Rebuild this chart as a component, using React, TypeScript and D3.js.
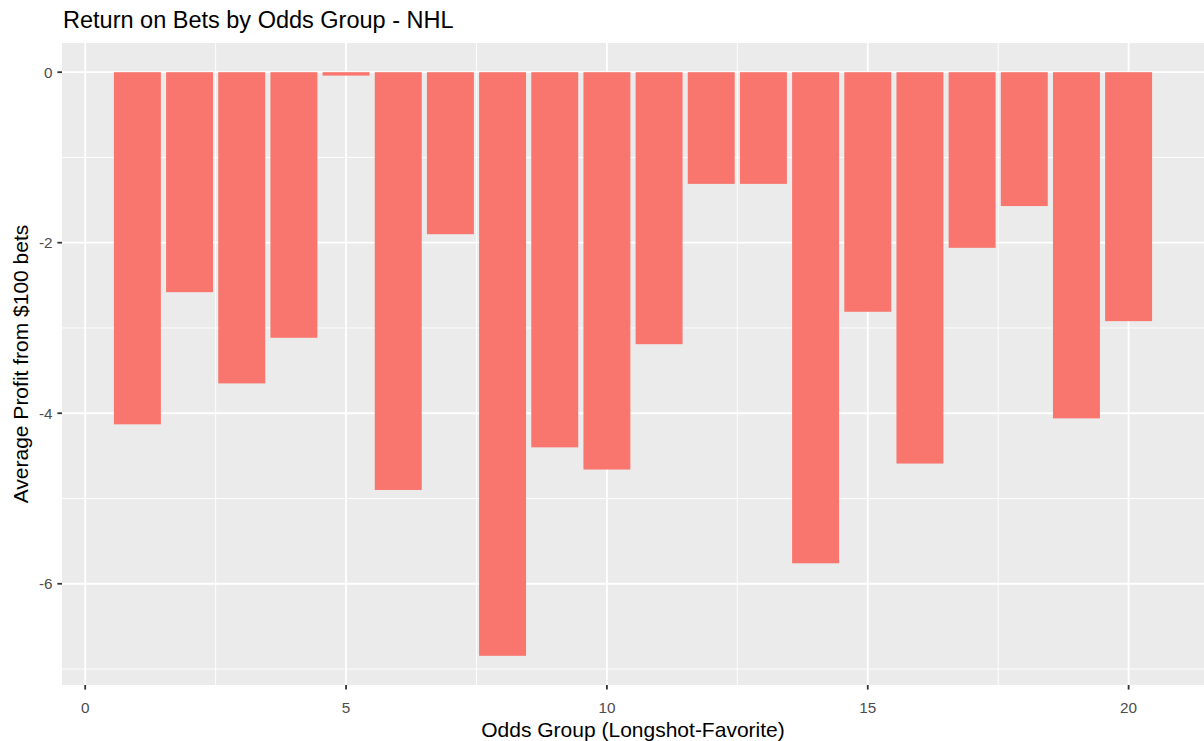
import React from "react";
import * as d3 from "d3";

const groups: number[] = [1, 2, 3, 4, 5, 6, 7, 8, 9, 10, 11, 12, 13, 14, 15, 16, 17, 18, 19, 20];
const profits: number[] = [
  -4.13, -2.58, -3.65, -3.115, -0.04, -4.9, -1.9, -6.845, -4.4, -4.66,
  -3.19, -1.31, -1.31, -5.76, -2.81, -4.59, -2.06, -1.57, -4.06, -2.92,
];
const xTicks: number[] = [0, 5, 10, 15, 20];
const xMinor: number[] = [2.5, 7.5, 12.5, 17.5];
const yTicks: number[] = [0, -2, -4, -6];
const yMinor: number[] = [1, -1, -3, -5, -7];

const W = 1204;
const H = 741;
const panel = { left: 62, right: 1204, top: 43, bottom: 685 };
const barWidth = 0.9;
const FONT = "'Liberation Sans', Arial, Helvetica, sans-serif";

export default function App() {
  const xmin = d3.min(groups)! - barWidth / 2;
  const xmax = d3.max(groups)! + barWidth / 2;
  const xr = xmax - xmin;
  const x = d3
    .scaleLinear()
    .domain([xmin - 0.05 * xr, xmax + 0.05 * xr])
    .range([panel.left, panel.right]);
  const ymin = Math.min(0, d3.min(profits)!);
  const ymax = Math.max(0, d3.max(profits)!);
  const yr = ymax - ymin;
  const y = d3
    .scaleLinear()
    .domain([ymin - 0.05 * yr, ymax + 0.05 * yr])
    .range([panel.bottom, panel.top]);
  const yMinorVis = yMinor.filter((v) => y(v) >= panel.top && y(v) <= panel.bottom);

  return (
    <svg
      width={W}
      height={H}
      style={{ position: "absolute", left: 0, top: 0, display: "block" }}
      fontFamily={FONT}
    >
      <rect x={0} y={0} width={W} height={H} fill="#ffffff" />
      <rect
        x={panel.left}
        y={panel.top}
        width={panel.right - panel.left}
        height={panel.bottom - panel.top}
        fill="#EBEBEB"
      />
      {yMinorVis.map((v) => (
        <line key={"ym" + v} x1={panel.left} x2={panel.right} y1={y(v)} y2={y(v)} stroke="#ffffff" strokeWidth={0.9} />
      ))}
      {xMinor.map((v) => (
        <line key={"xm" + v} x1={x(v)} x2={x(v)} y1={panel.top} y2={panel.bottom} stroke="#ffffff" strokeWidth={0.9} />
      ))}
      {yTicks.map((v) => (
        <line key={"yg" + v} x1={panel.left} x2={panel.right} y1={y(v)} y2={y(v)} stroke="#ffffff" strokeWidth={1.8} />
      ))}
      {xTicks.map((v) => (
        <line key={"xg" + v} x1={x(v)} x2={x(v)} y1={panel.top} y2={panel.bottom} stroke="#ffffff" strokeWidth={1.8} />
      ))}
      {groups.map((g, i) => {
        const v = profits[i];
        const y0 = y(Math.max(0, v));
        const y1 = y(Math.min(0, v));
        return (
          <rect
            key={"b" + g}
            x={x(g - barWidth / 2)}
            y={y0}
            width={x(g + barWidth / 2) - x(g - barWidth / 2)}
            height={y1 - y0}
            fill="#F8766D"
          />
        );
      })}
      {/* y axis */}
      {yTicks.map((v) => (
        <g key={"yt" + v}>
          <line x1={panel.left - 4.6} x2={panel.left} y1={y(v)} y2={y(v)} stroke="#333333" strokeWidth={1.8} />
          <text
            x={panel.left - 9.5}
            y={y(v)}
            dy="0.36em"
            textAnchor="end"
            fontSize={15.3}
            fill="#4D4D4D"
          >
            {v === 0 ? "0" : String(v)}
          </text>
        </g>
      ))}
      {/* x axis */}
      {xTicks.map((v) => (
        <g key={"xt" + v}>
          <line x1={x(v)} x2={x(v)} y1={panel.bottom} y2={panel.bottom + 4.6} stroke="#333333" strokeWidth={1.8} />
          <text x={x(v)} y={713} textAnchor="middle" fontSize={15.3} fill="#4D4D4D">
            {String(v)}
          </text>
        </g>
      ))}
      <text
        x={(panel.left + panel.right) / 2}
        y={736.5}
        textAnchor="middle"
        fontSize={21}
        fill="#000000"
      >
        Odds Group (Longshot-Favorite)
      </text>
      <text
        transform={`translate(28,${(panel.top + panel.bottom) / 2}) rotate(-90)`}
        textAnchor="middle"
        fontSize={21}
        fill="#000000"
      >
        Average Profit from $100 bets
      </text>
      <text x={panel.left + 1} y={28} fontSize={23.5} fill="#000000">
        Return on Bets by Odds Group - NHL
      </text>
    </svg>
  );
}
